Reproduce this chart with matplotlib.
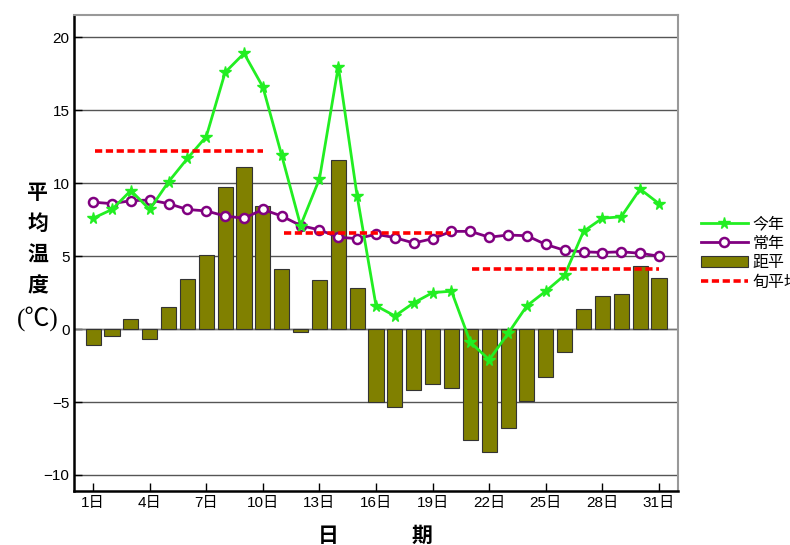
import matplotlib.pyplot as plt
import numpy as np

plt.rcParams['font.family'] = ['Liberation Sans', 'Noto Sans CJK SC', 'DejaVu Sans']

days = np.arange(1, 32)
this_year = [7.6, 8.2, 9.5, 8.2, 10.1, 11.7, 13.2, 17.6, 18.9, 16.6,
             11.9, 7.1, 10.3, 18.0, 9.1, 1.6, 0.9, 1.8, 2.5, 2.6,
             -0.9, -2.1, -0.3, 1.6, 2.6, 3.7, 6.7, 7.6, 7.7, 9.6, 8.6]
normal = [8.7, 8.6, 8.8, 8.85, 8.6, 8.2, 8.1, 7.75, 7.6, 8.2,
          7.75, 7.1, 6.8, 6.3, 6.2, 6.5, 6.27, 5.9, 6.2, 6.7,
          6.7, 6.3, 6.45, 6.4, 5.8, 5.4, 5.3, 5.25, 5.3, 5.2, 5.0]
anomaly = [-1.1, -0.5, 0.7, -0.7, 1.5, 3.45, 5.05, 9.75, 11.1, 8.45,
           4.1, -0.2, 3.4, 11.6, 2.8, -5.0, -5.35, -4.15, -3.75, -4.05,
           -7.6, -8.4, -6.8, -4.9, -3.25, -1.6, 1.35, 2.3, 2.4, 4.35, 3.5]
# 旬平均: (start day, end day, value)
dekad_start = [1.1, 11.1, 21.1]
dekad_end = [10.0, 20.0, 31.0]
dekad_val = [12.2, 6.6, 4.1]
xtick_days = [1, 4, 7, 10, 13, 16, 19, 22, 25, 28, 31]
xtick_labels = [f'{d}日' for d in xtick_days]

fig = plt.figure(figsize=(7.9, 5.45), dpi=100)
ax = fig.add_axes([0.094, 0.099, 0.764, 0.874])

ax.set_axisbelow(True)
ax.yaxis.grid(True, color='#555555', linewidth=1.0)

bars = ax.bar(days, anomaly, width=0.8, color='#808000', edgecolor='#333333',
              linewidth=0.8, zorder=2, label='距平')
l2, = ax.plot(days, normal, color='#800080', linewidth=2, marker='o',
              markersize=6.5, markerfacecolor='white', markeredgecolor='#800080',
              markeredgewidth=1.8, zorder=3, label='常年')
l1, = ax.plot(days, this_year, color='#22ee22', linewidth=2, marker='*',
              markersize=8.5, markerfacecolor='#22ee22', markeredgecolor='#22ee22',
              zorder=4, label='今年')
for i in range(len(dekad_val)):
    l3, = ax.plot([dekad_start[i], dekad_end[i]], [dekad_val[i], dekad_val[i]],
                  color='red', linestyle=(0, (2, 1)), linewidth=2.6, zorder=5,
                  label='旬平均')

ax.set_xlim(0, 32)
ax.set_ylim(-11.1, 21.55)
ax.set_yticks([-10, -5, 0, 5, 10, 15, 20])
ax.set_xticks(xtick_days)
ax.set_xticklabels(xtick_labels)
ax.tick_params(direction='in', labelsize=11, length=6, width=1)

for s in ['left', 'bottom']:
    ax.spines[s].set_linewidth(1.8)
    ax.spines[s].set_color('black')
for s in ['top', 'right']:
    ax.spines[s].set_linewidth(1.5)
    ax.spines[s].set_color('#999999')

ax.axhline(0, color='#777777', linewidth=1.0, zorder=1)

ylab = '平\n均\n温\n度'
fig.text(0.048, 0.561, ylab, ha='center', va='center', fontsize=15,
         fontweight='bold', family='Noto Sans CJK SC', linespacing=1.6)
fig.text(0.048, 0.415, '(℃)', ha='center', va='center', fontsize=18,
         family=['Liberation Serif', 'Noto Sans CJK SC'])
fig.text(0.415, 0.018, '日', ha='center', va='center', fontsize=15,
         fontweight='bold', family='Noto Sans CJK SC')
fig.text(0.534, 0.018, '期', ha='center', va='center', fontsize=15,
         fontweight='bold', family='Noto Sans CJK SC')

leg = ax.legend(handles=[l1, l2, bars, l3], loc='center left',
                bbox_to_anchor=(1.015, 0.50), frameon=False,
                prop={'family': 'Noto Sans CJK SC', 'size': 11.5},
                handlelength=2.9, handletextpad=0.3, labelspacing=0.15)

fig.savefig('out.png', dpi=100)
